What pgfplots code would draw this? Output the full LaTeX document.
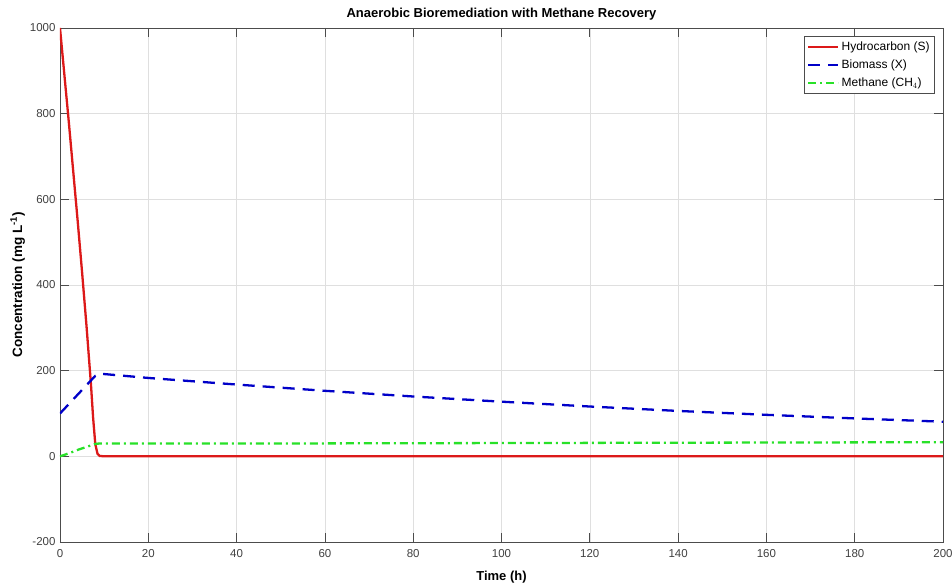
\documentclass[border=0pt]{standalone}
\usepackage{pgfplots}
\pgfplotsset{compat=1.18}
\usepackage{fontspec}
\setmainfont{Liberation Sans}

\definecolor{sred}{RGB}{220,25,25}
\definecolor{xblue}{RGB}{0,0,200}
\definecolor{mgreen}{RGB}{40,225,40}

\begin{document}
\begin{tikzpicture}[x=1bp,y=1bp]
\begin{axis}[
    scale only axis,
    width=883bp, height=514bp,
    xmin=0, xmax=200, ymin=-200, ymax=1000,
    xtick={0,20,...,200}, ytick={-200,0,...,1000},
    grid=major,
    grid style={gray!25, line width=0.6pt},
    axis line style={black!70, line width=0.8pt},
    tick style={black!70, line width=0.8pt},
    major tick length=9bp,
    tick align=inside,
    /pgf/number format/assume math mode=true,
    /pgf/number format/set thousands separator={},
    tick label style={font=\fontsize{11.5bp}{13bp}\selectfont, black!75},
    xticklabel style={yshift=-4bp},
    yticklabel style={xshift=-1bp},
    title={\bfseries Anaerobic Bioremediation with Methane Recovery},
    title style={font=\fontsize{13bp}{15bp}\selectfont, yshift=-2bp},
    xlabel={\bfseries Time (h)},
    ylabel={\bfseries Concentration (mg L\textsuperscript{-1})},
    xlabel style={font=\fontsize{13bp}{15bp}\selectfont, yshift=-7bp},
    ylabel style={font=\fontsize{13.5bp}{15bp}\selectfont, yshift=-2bp},
    legend style={at={(rel axis cs:0.991,0.984)}, anchor=north east,
        font=\fontsize{12bp}{15bp}\selectfont, draw=black!70, line width=0.8pt,
        row sep=4bp, inner xsep=3bp, inner ysep=3bp},
    legend cell align=left,
    legend image code/.code={\draw[#1] (0bp,0bp) -- (30bp,0bp);},
]
\addplot[sred, line width=2.3pt] coordinates {
(0,1000) (1,890) (2,780) (3,665) (4,550) (5,430) (6,305) (7,170) (7.5,90)
(8,28) (8.5,6) (9,1) (10,0) (50,0) (100,0) (150,0) (200,0)
};
\addlegendentry{Hydrocarbon (S)}
\addplot[xblue, line width=2.3pt, dash pattern=on 12bp off 8bp] coordinates {
(0,100) (2,122) (4,144) (6,166) (8,188) (9,193)
(20,183) (40,167.6) (60,153) (80,139.7) (100,127.6) (120,116.3)
(140,106) (160,96.9) (180,88.5) (200,80.8)
};
\addlegendentry{Biomass (X)}
\addplot[mgreen, line width=2.3pt, dash pattern=on 8bp off 4bp on 2bp off 4bp] coordinates {
(0,0) (2,7) (4,15) (6,22) (8,29) (9,30) (50,30) (100,31) (150,32) (200,33)
};
\addlegendentry{Methane (CH$_4$)}
\end{axis}
\pgfresetboundingbox
\path ([shift={(-60bp,-42bp)}]current axis.south west) rectangle ([shift={(9bp,28bp)}]current axis.north east);
\end{tikzpicture}
\end{document}
